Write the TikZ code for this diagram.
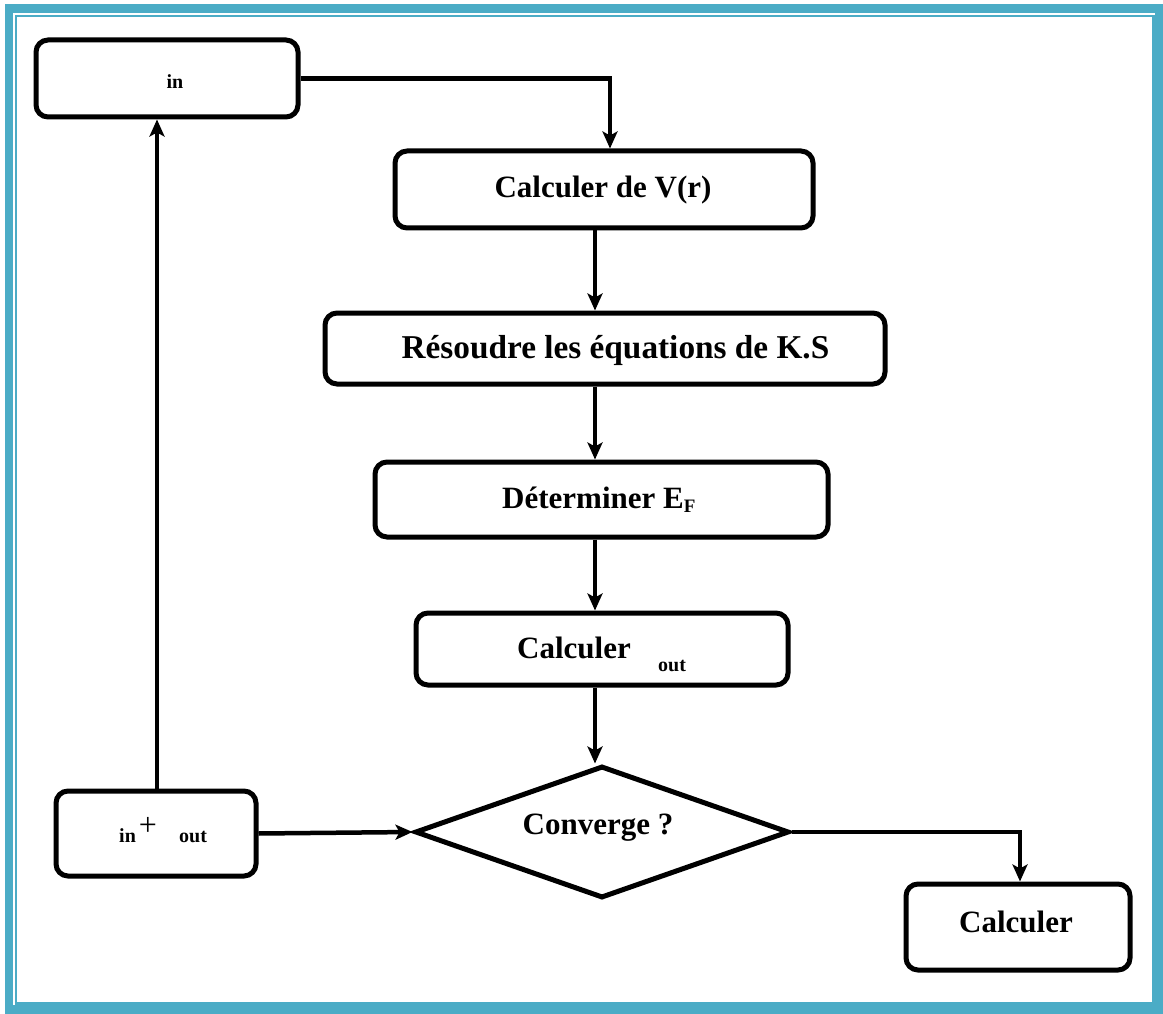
\documentclass[tikz,border=0pt]{standalone}
\usepackage{fontspec}
\setmainfont{Liberation Serif}
\usetikzlibrary{shapes.geometric,arrows.meta}
\definecolor{frameblue}{RGB}{75,172,198}
\begin{document}
\begin{tikzpicture}[x=1pt,y=-1pt,
  box/.style={draw, line width=5pt, rounded corners=12pt, fill=white, inner sep=0pt},
  txt/.style={inner sep=0pt, font=\bfseries\fontsize{31}{31}\selectfont},
  small/.style={inner sep=0pt, font=\bfseries\fontsize{20}{20}\selectfont},
  arr/.style={line width=4.5pt, -{Stealth[length=17pt,width=15pt,inset=4pt]}},
  ln/.style={line width=4.5pt}]
\useasboundingbox (0,0) rectangle (1163,1014);
% frame
\draw[frameblue, line width=8.5pt] (9,8.5) rectangle (1159.5,1009.5);
\draw[frameblue, line width=2.5pt] (16,16) rectangle (1153.7,1003.7);
% boxes
\node[box, minimum width=262, minimum height=77] (in) at (167,78.5) {};
\node[box, minimum width=418, minimum height=77] (calcV) at (604,189.5) {};
\node[box, minimum width=560, minimum height=71] (res) at (605,348.5) {};
\node[box, minimum width=453, minimum height=75] (det) at (601.5,499.5) {};
\node[box, minimum width=372, minimum height=72] (cout) at (602,649) {};
\node[draw, line width=5pt, diamond, minimum width=374, minimum height=132, inner sep=0pt, fill=white] (dia) at (602,832) {};
\node[box, minimum width=200, minimum height=85] (io) at (156,833.5) {};
\node[box, minimum width=224, minimum height=86] (fin) at (1018,927) {};
% texts
\node[small, anchor=base] (tin) at (175,89) {in};
\node[txt, anchor=base] (tcalcV) at (603,197) {Calculer de V(r)};
\node[txt, anchor=base, font=\bfseries\fontsize{33.3}{33}\selectfont] (tres) at (615.5,358) {Résoudre les équations de K.S};
\node[txt, anchor=base west] (tdet) at (502,508) {Déterminer E\raisebox{-4pt}{\fontsize{19}{19}\selectfont F}};
\node[txt, anchor=base west] (tcout) at (517,658) {Calculer};
\node[small, anchor=base west] (tout) at (658,671) {out};
\node[txt, anchor=base] (tconv) at (598,834) {Converge ?};
\node[small, anchor=base west] (tio1) at (119,842) {in};
\node[inner sep=0pt, font=\fontsize{32}{32}\selectfont, anchor=center] (tplus) at (148,826) {+};
\node[small, anchor=base west] (tio2) at (179,842) {out};
\node[txt, anchor=base] (tfin) at (1016,932) {Calculer};
% connectors
\draw[arr] (in.east) -| ([xshift=6pt]calcV.north);
\draw[arr] ([xshift=-9pt]calcV.south) -- ([xshift=-9pt]calcV.south |- res.north);
\draw[arr] ([xshift=-10pt]res.south) -- ([xshift=-10pt]res.south |- det.north);
\draw[arr] ([xshift=-6.5pt]det.south) -- ([xshift=-6.5pt]det.south |- cout.north);
\draw[arr] ([xshift=-7pt]cout.south) -- ([xshift=-7pt]cout.south |- dia.north);
\draw[arr] (io.east) -- (dia.west);
\draw[arr] (dia.east) -| ([xshift=2pt]fin.north);
\draw[arr] ([xshift=1pt]io.north) -- ([xshift=1pt]io.north |- in.south);
\end{tikzpicture}
\end{document}
